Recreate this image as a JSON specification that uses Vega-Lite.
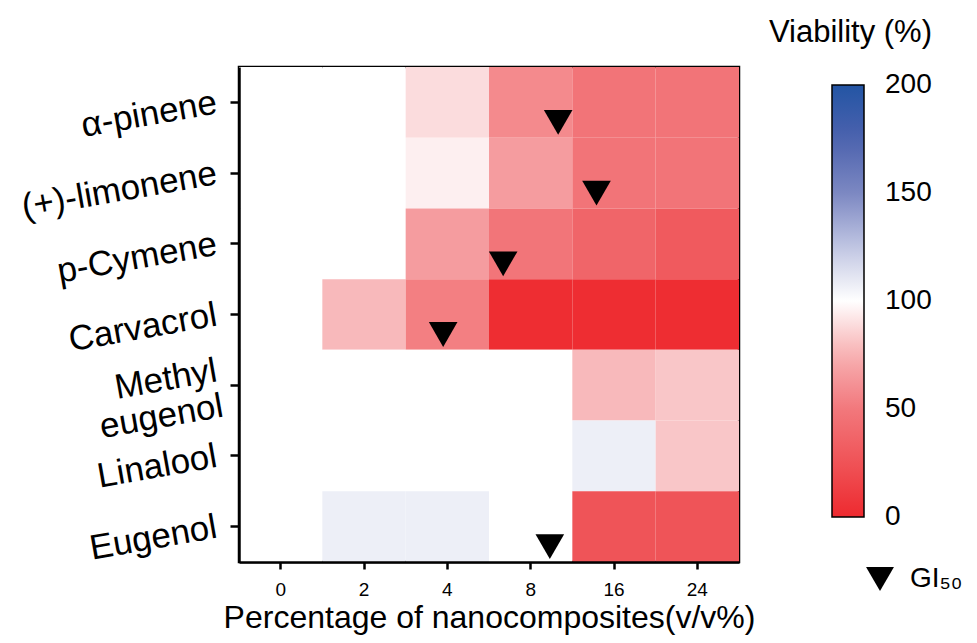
{
  "$schema": "https://vega.github.io/schema/vega-lite/v6.json",
  "autosize": {"type": "none"},
  "padding": {"left": 239, "top": 67, "right": 238, "bottom": 81},
  "width": 500,
  "height": 495,
  "datasets": {
    "cells": [
      {"compound": "α-pinene", "conc": "0", "viability": 100},
      {"compound": "α-pinene", "conc": "2", "viability": 100},
      {"compound": "α-pinene", "conc": "4", "viability": 89},
      {"compound": "α-pinene", "conc": "8", "viability": 58},
      {"compound": "α-pinene", "conc": "16", "viability": 47},
      {"compound": "α-pinene", "conc": "24", "viability": 47},
      {"compound": "(+)-limonene", "conc": "0", "viability": 100},
      {"compound": "(+)-limonene", "conc": "2", "viability": 100},
      {"compound": "(+)-limonene", "conc": "4", "viability": 95},
      {"compound": "(+)-limonene", "conc": "8", "viability": 66},
      {"compound": "(+)-limonene", "conc": "16", "viability": 47},
      {"compound": "(+)-limonene", "conc": "24", "viability": 47},
      {"compound": "p-Cymene", "conc": "0", "viability": 100},
      {"compound": "p-Cymene", "conc": "2", "viability": 100},
      {"compound": "p-Cymene", "conc": "4", "viability": 66},
      {"compound": "p-Cymene", "conc": "8", "viability": 48},
      {"compound": "p-Cymene", "conc": "16", "viability": 37},
      {"compound": "p-Cymene", "conc": "24", "viability": 30},
      {"compound": "Carvacrol", "conc": "0", "viability": 100},
      {"compound": "Carvacrol", "conc": "2", "viability": 78},
      {"compound": "Carvacrol", "conc": "4", "viability": 53},
      {"compound": "Carvacrol", "conc": "8", "viability": 2},
      {"compound": "Carvacrol", "conc": "16", "viability": 2},
      {"compound": "Carvacrol", "conc": "24", "viability": 2},
      {"compound": "Methyl eugenol", "conc": "0", "viability": 100},
      {"compound": "Methyl eugenol", "conc": "2", "viability": 100},
      {"compound": "Methyl eugenol", "conc": "4", "viability": 100},
      {"compound": "Methyl eugenol", "conc": "8", "viability": 100},
      {"compound": "Methyl eugenol", "conc": "16", "viability": 78},
      {"compound": "Methyl eugenol", "conc": "24", "viability": 82},
      {"compound": "Linalool", "conc": "0", "viability": 100},
      {"compound": "Linalool", "conc": "2", "viability": 100},
      {"compound": "Linalool", "conc": "4", "viability": 100},
      {"compound": "Linalool", "conc": "8", "viability": 100},
      {"compound": "Linalool", "conc": "16", "viability": 107},
      {"compound": "Linalool", "conc": "24", "viability": 82},
      {"compound": "Eugenol", "conc": "0", "viability": 100},
      {"compound": "Eugenol", "conc": "2", "viability": 107},
      {"compound": "Eugenol", "conc": "4", "viability": 107},
      {"compound": "Eugenol", "conc": "8", "viability": 100},
      {"compound": "Eugenol", "conc": "16", "viability": 26},
      {"compound": "Eugenol", "conc": "24", "viability": 26}
    ],
    "gi50": [
      {"compound": "α-pinene", "gi50_pos": 3.83, "marker": "GI₅₀"},
      {"compound": "(+)-limonene", "gi50_pos": 4.29, "marker": "GI₅₀"},
      {"compound": "p-Cymene", "gi50_pos": 3.17, "marker": "GI₅₀"},
      {"compound": "Carvacrol", "gi50_pos": 2.45, "marker": "GI₅₀"},
      {"compound": "Eugenol", "gi50_pos": 3.73, "marker": "GI₅₀"}
    ]
  },
  "layer": [
    {
      "data": {"name": "cells"},
      "mark": {"type": "rect"},
      "encoding": {
        "x": {
          "field": "conc", "type": "ordinal",
          "sort": ["0", "2", "4", "8", "16", "24"],
          "scale": {"paddingInner": 0, "paddingOuter": 0},
          "axis": {
            "title": "Percentage of nanocomposites(v/v%)",
            "titleFontSize": 32, "titleFontWeight": "normal", "titlePadding": 3,
            "labelFontSize": 19, "labelAngle": 0, "labelPadding": 11, "tickSize": 7
          }
        },
        "y": {
          "field": "compound", "type": "nominal",
          "sort": ["α-pinene", "(+)-limonene", "p-Cymene", "Carvacrol", "Methyl eugenol", "Linalool", "Eugenol"],
          "scale": {"paddingInner": 0, "paddingOuter": 0},
          "axis": {
            "title": null, "labelFontSize": 35, "labelAngle": -10,
            "labelAlign": "right", "labelBaseline": "middle", "labelPadding": 14,
            "tickSize": 9, "labelLimit": 300, "labelLineHeight": 36,
            "labelOffset": {"condition": {"test": "datum.value == 'Methyl eugenol'", "value": -15}, "value": 0},
            "labelExpr": "datum.value == 'Methyl eugenol' ? ['Methyl', 'eugenol'] : datum.value"
          }
        },
        "color": {
          "field": "viability", "type": "quantitative",
          "scale": {
            "domain": [0, 25, 50, 75, 100, 125, 150, 175, 200],
            "range": ["#ee2a2f", "#ef5357", "#f2787c", "#f7b0b2", "#ffffff", "#c0c5e2", "#7c88c2", "#4c62ae", "#2355a4"],
            "interpolate": "rgb"
          },
          "legend": {
            "title": "Viability (%)", "orient": "none", "legendX": 530, "legendY": -49,
            "direction": "vertical", "gradientLength": 432, "gradientThickness": 32,
            "titleFontSize": 31, "titleFontWeight": "normal", "titleAnchor": "end",
            "titlePadding": 36, "titleLimit": 400,
            "labelFontSize": 28, "labelOffset": 21, "labelOverlap": false,
            "values": [0, 50, 100, 150, 200],
            "gradientStrokeColor": "black", "gradientStrokeWidth": 1.5,
            "encode": {"labels": {"update": {"baseline": {"value": "middle"}}}}
          }
        }
      }
    },
    {
      "data": {"name": "gi50"},
      "mark": {"type": "point", "filled": true, "color": "black", "size": 820, "opacity": 1, "yOffset": 20},
      "encoding": {
        "x": {"field": "gi50_pos", "type": "quantitative", "scale": {"domain": [0, 6], "nice": false, "zero": false}, "axis": null},
        "y": {
          "field": "compound", "type": "nominal",
          "sort": ["α-pinene", "(+)-limonene", "p-Cymene", "Carvacrol", "Methyl eugenol", "Linalool", "Eugenol"]
        },
        "shape": {
          "field": "marker", "type": "nominal",
          "scale": {"range": ["triangle-down"]},
          "legend": {
            "title": null, "orient": "none", "legendX": 627, "legendY": 498,
            "labelFontSize": 28, "symbolSize": 780, "symbolFillColor": "black",
            "symbolStrokeColor": "black", "symbolStrokeWidth": 0, "labelOffset": 16
          }
        }
      }
    }
  ],
  "resolve": {"scale": {"x": "independent"}, "axis": {"x": "independent"}},
  "config": {
    "font": "Liberation Sans",
    "view": {"stroke": "black", "strokeWidth": 2.5},
    "axis": {"domainColor": "black", "domainWidth": 2.5, "tickColor": "black", "tickWidth": 2.5, "labelColor": "black", "titleColor": "black", "grid": false},
    "legend": {"labelColor": "black", "titleColor": "black", "padding": 0}
  }
}
